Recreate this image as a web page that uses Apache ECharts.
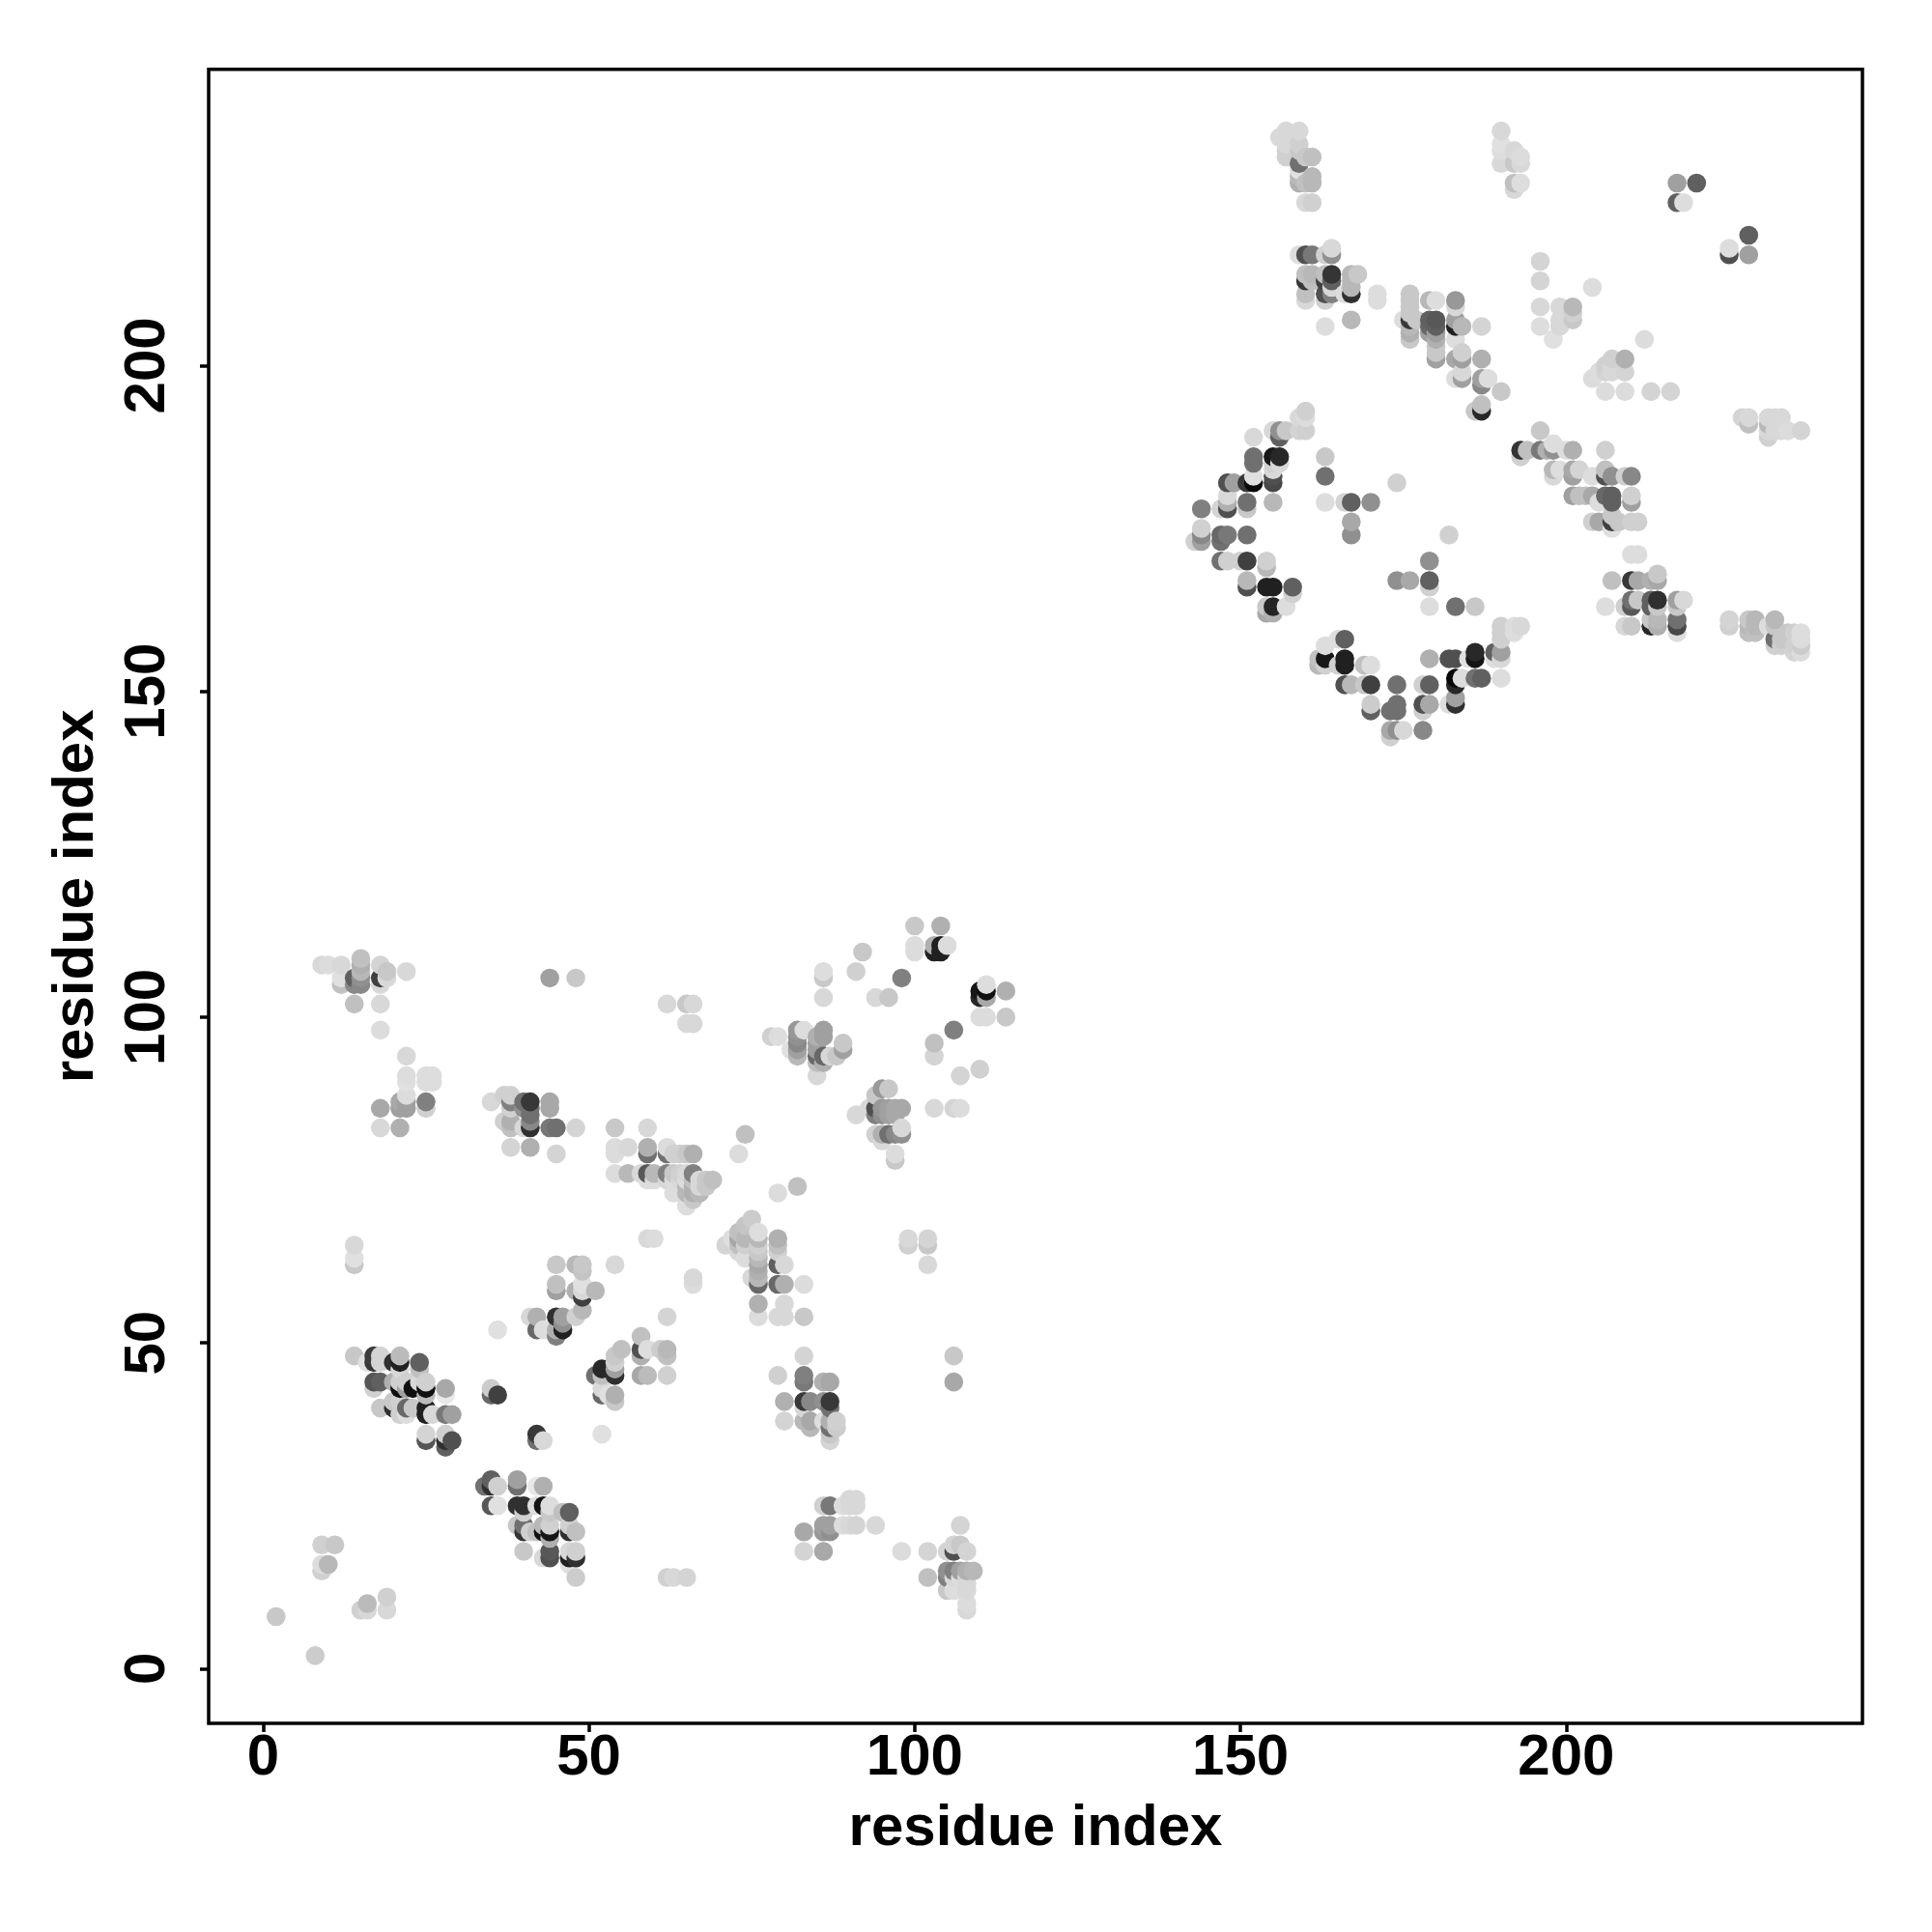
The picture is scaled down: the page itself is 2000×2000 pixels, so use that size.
<!DOCTYPE html>
<html><head><meta charset="utf-8">
<style>html,body{margin:0;padding:0;background:#fff}#c{width:2000px;height:2000px}</style>
<script src="https://cdn.jsdelivr.net/npm/echarts@6/dist/echarts.min.js"></script>
</head><body><div id="c"></div>
<script>
const xTicks=[0,50,100,150,200];
const yTicks=[0,50,100,150,200];
const axisTitle='residue index';
// each point: [residue x, residue y, grey level as hex]
const sparseLow=[[2,8,'c8'],[8,2,'cc'],[9,19,'d0'],[11,19,'c8'],[9,15,'d0'],[9,16,'dd'],[10,16,'b8'],[15,9,'d0'],[16,9,'d8'],[16,10,'bb'],[19,11,'d0'],[19,9,'d8'],[14,65,'d8'],[14,63,'e0'],[14,62,'c8'],[62,14,'d0'],[63,14,'d8'],[65,14,'d4']];
const strandA=[[14,48,'c8'],[16,47,'e0'],[17,48,'3c'],[17,47,'38'],[18,48,'d4'],[18,47,'d4'],[20,47,'30'],[21,48,'bb'],[21,47,'20'],[21,46,'d8'],[24,47,'60'],[24,46,'c0'],[17,44,'55'],[18,44,'60'],[17,43,'d0'],[18,40,'c8'],[20,44,'b0'],[21,44,'d0'],[21,43,'10'],[22,44,'d0'],[22,43,'a0'],[23,43,'10'],[24,44,'d8'],[25,44,'d0'],[25,43,'10'],[25,42,'bb'],[28,43,'a8'],[28,42,'e8'],[22,40,'68'],[21,39,'d0'],[20,40,'30'],[20,41,'c8'],[21,41,'d0'],[22,39,'dd'],[25,40,'20'],[25,39,'20'],[23,40,'c8'],[26,39,'d8'],[28,39,'78'],[29,39,'a0'],[25,36,'d4'],[25,35,'55'],[28,36,'d0'],[28,35,'30'],[28,34,'60'],[29,35,'50'],[35,43,'cc'],[35,42,'68'],[36,42,'40']];
const strandB=[[42,36,'38'],[42,35,'70'],[43,35,'d8'],[35,29,'60'],[34,28,'70'],[35,28,'30'],[36,28,'d0'],[39,29,'a0'],[39,28,'70'],[42,28,'e8'],[43,28,'b0'],[35,25,'58'],[36,25,'e0'],[39,25,'30'],[40,25,'30'],[40,24,'d0'],[42,25,'dd'],[43,25,'15'],[44,25,'dd'],[44,24,'c8'],[46,24,'c0'],[47,24,'60'],[39,22,'c8'],[40,22,'70'],[40,21,'35'],[41,21,'d0'],[42,21,'c0'],[43,22,'b8'],[43,21,'10'],[44,22,'d0'],[44,21,'15'],[44,20,'b0'],[47,22,'d0'],[47,21,'30'],[48,21,'c0'],[40,18,'c8'],[43,17,'d8'],[44,18,'58'],[44,17,'50'],[47,18,'d8'],[48,18,'d0'],[47,17,'20'],[48,17,'30'],[47,16,'e0'],[48,14,'cc']];
const diagLow=[[36,52,'e0'],[45,62,'c8'],[48,62,'b8'],[49,62,'c8'],[49,61,'c4'],[45,59,'c0'],[45,58,'a0'],[48,58,'b0'],[49,57,'40'],[49,59,'e0'],[49,58,'d8'],[51,58,'b8'],[54,62,'d8'],[49,55,'b8'],[48,54,'d0'],[41,54,'d8'],[42,54,'b0'],[42,52,'68'],[43,52,'dd'],[45,54,'30'],[46,54,'a0'],[46,52,'20'],[45,51,'80'],[45,52,'b0'],[46,53,'90'],[55,49,'c0'],[54,48,'c8'],[54,47,'d0'],[54,46,'a0'],[54,45,'30'],[52,46,'28'],[51,45,'70'],[52,45,'c0'],[54,42,'b0'],[54,41,'c8'],[52,43,'d8'],[52,42,'68'],[53,42,'e0'],[52,36,'e0'],[58,51,'c0'],[58,49,'50'],[58,48,'b0'],[59,49,'dd'],[61,49,'cc'],[62,49,'b8'],[62,48,'c0'],[58,45,'a8'],[59,45,'bb'],[62,45,'d0'],[62,54,'d4'],[59,66,'d8'],[60,66,'dc'],[66,60,'d8'],[66,59,'dc']];
const blockTopLeft=[[9,108,'d8'],[10,108,'dc'],[12,108,'d8'],[15,109,'c0'],[15,108,'b0'],[14,106,'60'],[14,105,'88'],[15,107,'b8'],[15,106,'90'],[15,105,'88'],[12,106,'e0'],[12,105,'c0'],[18,108,'d4'],[19,107,'c8'],[18,106,'40'],[18,105,'d8'],[19,106,'d8'],[22,107,'d8'],[14,102,'c0'],[18,102,'d8'],[18,98,'dc'],[22,94,'d8'],[22,91,'dd'],[22,90,'e0'],[25,91,'dd'],[26,91,'dd'],[25,90,'dd'],[26,90,'dd'],[22,88,'dc'],[21,87,'a8'],[22,87,'a0'],[21,86,'a0'],[22,86,'a0'],[25,87,'80'],[25,86,'d0'],[18,86,'a8'],[18,83,'d8'],[21,83,'b0'],[44,106,'a0'],[48,106,'c8']];
const blockMidLeft=[[35,87,'d8'],[37,88,'d0'],[38,88,'d0'],[38,87,'80'],[37,84,'d0'],[38,84,'b0'],[38,83,'c0'],[38,86,'d0'],[40,87,'70'],[41,87,'38'],[41,86,'70'],[40,86,'90'],[41,85,'70'],[41,84,'88'],[41,83,'30'],[40,83,'d8'],[44,87,'a8'],[44,86,'a8'],[44,83,'78'],[45,83,'70'],[48,83,'d4'],[38,80,'d4'],[41,80,'b0'],[45,79,'d4']];
const blockMidRight=[[54,83,'c8'],[59,83,'d8'],[54,80,'dc'],[54,79,'dc'],[56,80,'d8'],[59,80,'b0'],[59,79,'70'],[62,80,'dc'],[62,79,'70'],[63,79,'d0'],[64,79,'d0'],[65,79,'c8'],[66,79,'b0'],[54,76,'dc'],[56,76,'b8'],[58,76,'d8'],[59,76,'58'],[60,76,'b8'],[62,76,'80'],[63,76,'c8'],[64,76,'d0'],[65,76,'d8'],[66,76,'80'],[59,75,'dd'],[60,75,'dd'],[62,75,'d8'],[63,75,'dd'],[64,75,'d8'],[65,75,'dd'],[66,75,'c0'],[67,75,'d8'],[69,75,'c0'],[68,75,'c8'],[63,73,'dd'],[64,73,'dd'],[65,73,'b8'],[66,73,'b0'],[67,73,'b8'],[68,74,'c8'],[66,74,'b0'],[65,74,'b8'],[67,74,'d8'],[65,71,'dd'],[66,72,'c8'],[74,82,'c0'],[73,79,'dc'],[62,102,'d8'],[65,102,'c8'],[66,102,'d8'],[65,99,'d8'],[66,99,'d8']];
const blockDiagMid=[[75,69,'cc'],[74,68,'c4'],[73,67,'c0'],[72,66,'dd'],[71,65,'d4'],[73,66,'a8'],[74,66,'b8'],[73,65,'c0'],[74,65,'d0'],[73,64,'d8'],[74,63,'dd'],[76,67,'dd'],[76,66,'b8'],[76,65,'d0'],[76,64,'c8'],[76,63,'b8'],[76,62,'a8'],[76,61,'b0'],[76,60,'b8'],[76,59,'68'],[75,60,'d8'],[76,56,'b0'],[76,54,'dc'],[79,66,'b0'],[79,65,'c0'],[79,64,'d0'],[79,62,'60'],[80,62,'d8'],[79,59,'68'],[80,59,'b0'],[83,59,'dc'],[80,56,'d8'],[79,54,'d8'],[80,54,'d8'],[83,54,'c8'],[82,74,'c0'],[79,73,'dc'],[99,66,'d8'],[99,65,'d0'],[102,66,'d4'],[102,65,'c8'],[102,62,'d8']];
const blockLowMid=[[83,48,'d4'],[106,48,'c8'],[79,45,'d0'],[83,45,'80'],[83,44,'78'],[86,44,'b0'],[87,44,'a8'],[106,44,'a8'],[80,41,'b0'],[83,41,'38'],[84,41,'88'],[86,41,'90'],[87,41,'38'],[87,40,'70'],[83,40,'d8'],[80,38,'d4'],[83,38,'b8'],[84,38,'a8'],[84,37,'b8'],[86,38,'dd'],[87,38,'b0'],[87,37,'70'],[88,38,'d0'],[88,37,'cc'],[87,35,'d4'],[87,36,'c8'],[86,25,'d0'],[87,25,'78'],[89,25,'dd'],[90,26,'d8'],[91,26,'d8'],[90,25,'d8'],[91,25,'d8'],[86,22,'a0'],[87,22,'a0'],[86,21,'98'],[87,21,'90'],[89,22,'dd'],[90,22,'d8'],[91,22,'d4'],[94,22,'d8'],[83,21,'a8'],[83,18,'d4'],[86,18,'a8'],[98,18,'dc'],[102,18,'d4'],[102,14,'c0'],[105,18,'d4'],[106,19,'d4'],[107,22,'d4'],[107,19,'c8'],[108,18,'d4'],[106,18,'50'],[105,15,'90'],[105,14,'80'],[106,15,'80'],[107,15,'a0'],[108,15,'b0'],[109,15,'b8'],[105,12,'c8'],[106,12,'dd'],[108,12,'d8'],[108,10,'dc'],[108,9,'d8'],[106,14,'d8'],[107,14,'dd'],[108,14,'d8'],[108,13,'d8']];
const blockUpperDiag=[[100,114,'c8'],[104,114,'b0'],[100,111,'dc'],[100,110,'dc'],[103,110,'20'],[104,111,'20'],[104,110,'20'],[103,111,'b0'],[105,111,'dc'],[92,110,'c8'],[91,107,'d0'],[86,107,'dd'],[86,106,'c8'],[86,103,'d8'],[98,106,'80'],[94,103,'d8'],[96,103,'c8'],[111,105,'dd'],[110,104,'18'],[111,104,'10'],[110,103,'28'],[111,103,'a8'],[114,104,'b0'],[110,100,'dc'],[111,100,'dc'],[114,100,'c8'],[106,98,'80'],[103,96,'c0'],[103,94,'d4'],[107,91,'d4'],[110,92,'d0'],[103,86,'d8'],[106,86,'d4'],[107,86,'dc']];
const blockDiagUpper=[[78,97,'d0'],[79,97,'dd'],[82,98,'98'],[83,98,'dd'],[82,97,'90'],[82,96,'88'],[82,95,'a0'],[82,94,'b8'],[81,95,'e0'],[85,97,'b0'],[86,98,'a0'],[86,97,'a0'],[85,96,'a0'],[85,95,'a0'],[85,94,'68'],[86,94,'68'],[87,94,'d8'],[86,93,'b0'],[85,93,'c0'],[85,91,'d8'],[88,94,'c8'],[89,96,'c8'],[89,95,'a0'],[96,89,'c8'],[95,89,'98'],[94,88,'c8'],[94,86,'50'],[94,85,'80'],[95,86,'98'],[96,86,'a0'],[97,86,'a8'],[98,86,'a8'],[93,86,'d8'],[91,85,'d8'],[95,85,'90'],[96,85,'a0'],[97,85,'a8'],[94,82,'d0'],[95,82,'b0'],[96,82,'70'],[97,82,'88'],[98,83,'d8'],[98,82,'90'],[95,81,'d8'],[97,79,'dc'],[97,78,'c8']];
const arcLeft=[[144,178,'80'],[143,173,'d0'],[144,175,'d0'],[144,174,'88'],[144,173,'a0'],[147,174,'68'],[147,173,'70'],[148,174,'78'],[151,174,'70'],[147,170,'70'],[148,170,'d0'],[150,170,'d0'],[151,170,'40'],[154,170,'d0'],[154,169,'b8'],[151,167,'b8'],[151,166,'50'],[154,166,'20'],[155,166,'20'],[158,166,'60'],[158,165,'d0'],[154,163,'c8'],[154,162,'a8'],[155,163,'25'],[155,162,'b0'],[157,163,'dd'],[147,178,'d4'],[148,180,'d8'],[148,179,'b0'],[148,178,'50'],[151,179,'70'],[151,178,'c8'],[155,179,'b8'],[148,182,'50'],[149,182,'a0'],[151,182,'38'],[152,183,'e0'],[152,182,'0a'],[155,185,'d0'],[155,184,'d8'],[155,183,'50'],[155,182,'48'],[152,186,'70'],[152,185,'70'],[152,189,'d8'],[155,186,'18'],[156,186,'28'],[156,185,'d8'],[155,190,'d8'],[156,190,'90'],[156,189,'60'],[157,190,'c8'],[159,190,'d4'],[160,190,'d0'],[159,192,'d8'],[160,193,'d0'],[160,192,'dc']];
const ringInner=[[163,186,'c8'],[163,183,'70'],[163,179,'dd'],[166,179,'d4'],[167,179,'60'],[170,179,'90'],[167,176,'a8'],[167,174,'90'],[174,182,'d0'],[182,174,'d0'],[179,170,'90'],[174,167,'90'],[176,167,'a8'],[179,167,'60'],[179,166,'d0'],[179,163,'dd'],[183,163,'70'],[186,163,'c8']];
const arcBottom=[[166,158,'60'],[165,158,'dd'],[163,157,'dd'],[163,155,'18'],[162,155,'c0'],[162,154,'b8'],[163,154,'d0'],[166,155,'20'],[166,154,'20'],[165,154,'d0'],[169,154,'c0'],[170,154,'dd'],[166,151,'50'],[167,151,'b8'],[170,151,'40'],[169,151,'c8'],[170,148,'cc'],[170,147,'60'],[174,151,'70'],[174,148,'70'],[173,147,'70'],[174,147,'70'],[173,144,'a8'],[173,143,'d0'],[174,144,'90'],[175,144,'d8'],[178,144,'88'],[178,151,'d0'],[179,151,'60'],[178,148,'50'],[179,148,'a8'],[178,147,'d0'],[182,148,'dd'],[183,148,'30'],[183,149,'a0'],[183,151,'28'],[183,152,'08'],[184,152,'dd'],[186,152,'70'],[187,152,'60'],[190,152,'dd'],[179,155,'b0'],[182,155,'50'],[183,155,'50'],[185,155,'e0'],[186,156,'28'],[186,155,'15'],[189,156,'60'],[190,156,'a0'],[190,155,'d8'],[189,155,'dd'],[190,160,'d0'],[190,159,'d0'],[190,158,'d0'],[192,160,'dd'],[193,160,'d8'],[192,159,'dd']];
const bandRight=[[196,190,'c8'],[193,187,'35'],[193,186,'d0'],[194,187,'c0'],[196,187,'78'],[197,187,'b0'],[198,187,'90'],[198,188,'dd'],[200,187,'dd'],[201,187,'b0'],[206,187,'d0'],[198,184,'b8'],[199,184,'dd'],[198,183,'d8'],[201,184,'a8'],[201,183,'a0'],[202,184,'d4'],[204,183,'dd'],[206,184,'c0'],[206,183,'50'],[207,183,'90'],[209,183,'d0'],[210,183,'88'],[201,180,'a0'],[202,180,'c0'],[203,180,'c0'],[204,180,'a8'],[206,180,'68'],[207,180,'60'],[207,179,'60'],[205,179,'dd'],[210,180,'d0'],[210,179,'a0'],[204,176,'d0'],[205,176,'a8'],[207,177,'c8'],[207,176,'40'],[207,175,'e0'],[208,176,'c8'],[210,176,'d0'],[211,176,'d0'],[210,171,'dd'],[211,171,'dd']];
const blockLowRight=[[207,167,'c0'],[210,167,'38'],[211,167,'a8'],[213,167,'b0'],[214,168,'c8'],[214,167,'a8'],[206,163,'dd'],[209,163,'d0'],[210,164,'70'],[210,163,'58'],[211,164,'c8'],[213,164,'60'],[213,163,'60'],[214,164,'30'],[214,163,'c8'],[217,164,'a0'],[218,164,'d8'],[217,163,'c8'],[209,160,'d8'],[210,160,'c8'],[213,160,'28'],[214,160,'b0'],[213,161,'c8'],[214,161,'b8'],[217,161,'70'],[217,160,'48'],[217,159,'dd'],[225,161,'d4'],[225,160,'d0'],[228,161,'c8'],[229,161,'b8'],[228,160,'b8'],[229,160,'b8'],[228,159,'c0'],[229,159,'c0'],[231,160,'dd'],[232,161,'b8'],[232,160,'c8'],[232,158,'70'],[232,157,'d0'],[233,158,'c8'],[233,157,'d0'],[234,159,'c8'],[235,159,'d0'],[236,159,'dd'],[236,158,'dc'],[235,157,'d0'],[236,157,'cc'],[235,156,'d4'],[236,156,'dc']];
const bandFarRight=[[227,192,'d4'],[228,192,'d8'],[228,191,'c0'],[231,192,'d8'],[232,192,'d8'],[233,192,'d8'],[231,191,'b8'],[231,190,'d8'],[231,189,'d0'],[232,190,'d8'],[233,190,'d8'],[234,190,'dc'],[236,190,'d4'],[217,228,'a0'],[220,228,'60'],[217,225,'60'],[218,225,'dd'],[228,220,'60'],[225,218,'dd'],[225,217,'50'],[228,217,'a0']];
const clusterTop=[[196,216,'d4'],[196,213,'d4'],[204,212,'dd'],[196,209,'d8'],[196,206,'dd'],[201,209,'b8'],[199,209,'d8'],[201,208,'d0'],[201,207,'c8'],[199,207,'d8'],[199,206,'d8'],[198,204,'e0'],[212,204,'dc'],[209,201,'b0'],[207,201,'d0'],[206,200,'d0'],[207,200,'d8'],[206,199,'d4'],[205,199,'dd'],[207,199,'d8'],[209,199,'d4'],[204,198,'dc'],[206,196,'dc'],[209,196,'dc'],[213,196,'d4'],[216,196,'d4']];
const columnTopLeft=[[156,235,'d8'],[157,236,'d8'],[159,236,'d8'],[157,234,'d8'],[159,234,'d0'],[157,233,'d0'],[157,232,'d0'],[159,233,'c8'],[159,231,'70'],[161,232,'c0'],[160,232,'c8'],[159,230,'e0'],[159,229,'b8'],[159,228,'b0'],[161,229,'b8'],[161,228,'b8'],[160,228,'c0'],[160,225,'d8'],[161,225,'d0'],[190,236,'d8'],[190,234,'e0'],[190,233,'dd'],[190,231,'d8'],[192,233,'d8'],[193,232,'dc'],[192,231,'c8'],[193,231,'d8'],[192,228,'c0'],[193,228,'dd'],[192,227,'d8']];
const clusterUpper=[[159,217,'dd'],[160,217,'50'],[161,217,'78'],[164,218,'d8'],[164,217,'90'],[163,217,'d0'],[160,214,'c0'],[160,213,'38'],[161,214,'b8'],[161,213,'c0'],[163,214,'c0'],[163,213,'40'],[164,214,'35'],[164,213,'60'],[167,214,'b8'],[168,214,'c8'],[160,211,'c0'],[160,210,'d8'],[163,211,'50'],[164,211,'80'],[164,212,'d8'],[163,210,'d0'],[167,213,'b8'],[167,212,'b8'],[167,211,'30'],[166,211,'dd'],[163,206,'dd'],[167,207,'b8'],[171,211,'dd'],[171,210,'dd']];
const clusterCentre=[[176,211,'c8'],[176,210,'c8'],[176,209,'c8'],[176,208,'c8'],[175,207,'dd'],[176,207,'38'],[177,207,'c8'],[179,210,'b8'],[180,210,'dd'],[183,210,'98'],[183,209,'d8'],[179,207,'60'],[180,207,'58'],[179,206,'68'],[180,206,'60'],[179,205,'a0'],[180,205,'a0'],[180,204,'b0'],[180,203,'c8'],[180,202,'c8'],[180,201,'a0'],[176,206,'b8'],[176,205,'b0'],[176,204,'c8'],[183,207,'a0'],[183,206,'20'],[184,206,'b8'],[187,206,'d4'],[183,204,'dd'],[184,202,'d0'],[183,201,'a8'],[184,201,'a0'],[184,199,'d8'],[183,198,'dd'],[184,198,'a0'],[187,201,'b0'],[187,198,'a0'],[187,197,'88'],[188,198,'dd'],[190,196,'c8'],[187,194,'c0'],[187,193,'28'],[186,193,'c8']];
const allGroups=[sparseLow,strandA,strandB,diagLow,blockTopLeft,blockMidLeft,blockMidRight,blockDiagMid,blockLowMid,blockUpperDiag,blockDiagUpper,arcLeft,ringInner,arcBottom,bandRight,blockLowRight,bandFarRight,clusterTop,columnTopLeft,clusterUpper,clusterCentre];
// painted column by column, upward: later points sit on top
const points=allGroups.flat().sort((a,b)=>a[0]-b[0]||a[1]-b[1]);
const font='"Liberation Sans", Arial, sans-serif';
const chart=echarts.init(document.getElementById('c'),null,{renderer:'canvas'});
chart.setOption({
  animation:false,backgroundColor:'#fff',
  grid:{show:true,left:216,top:71.7,width:1712,height:1712.3,borderColor:'#000',borderWidth:3.5,backgroundColor:'#fff'},
  xAxis:{type:'value',min:-8.35,max:245.45,
    name:axisTitle,nameLocation:'middle',nameGap:79,
    nameTextStyle:{fontFamily:font,fontWeight:'bold',fontSize:60,color:'#000'},
    splitLine:{show:false},axisLine:{show:false,onZero:false},
    axisTick:{show:true,length:9,customValues:xTicks,lineStyle:{color:'#000',width:3.5}},
    axisLabel:{customValues:xTicks,fontFamily:font,fontWeight:'bold',fontSize:60,color:'#000',margin:6,hideOverlap:false,showMinLabel:true,showMaxLabel:true}},
  yAxis:{type:'value',min:-8.39,max:245.47,
    name:axisTitle,nameLocation:'middle',nameGap:107,nameRotate:90,
    nameTextStyle:{fontFamily:font,fontWeight:'bold',fontSize:60,color:'#000'},
    splitLine:{show:false},axisLine:{show:false,onZero:false},
    axisTick:{show:true,length:9,customValues:yTicks,lineStyle:{color:'#000',width:3.5}},
    axisLabel:{customValues:yTicks,rotate:90,fontFamily:font,fontWeight:'bold',fontSize:60,color:'#000',margin:33,hideOverlap:false}},
  series:[{type:'scatter',symbol:'circle',symbolSize:19.6,
    data:points.map(p=>({value:[p[0],p[1]],itemStyle:{color:'#'+p[2]+p[2]+p[2],opacity:1}})),
    large:false,progressive:0,emphasis:{disabled:true}}]
});
</script></body></html>
